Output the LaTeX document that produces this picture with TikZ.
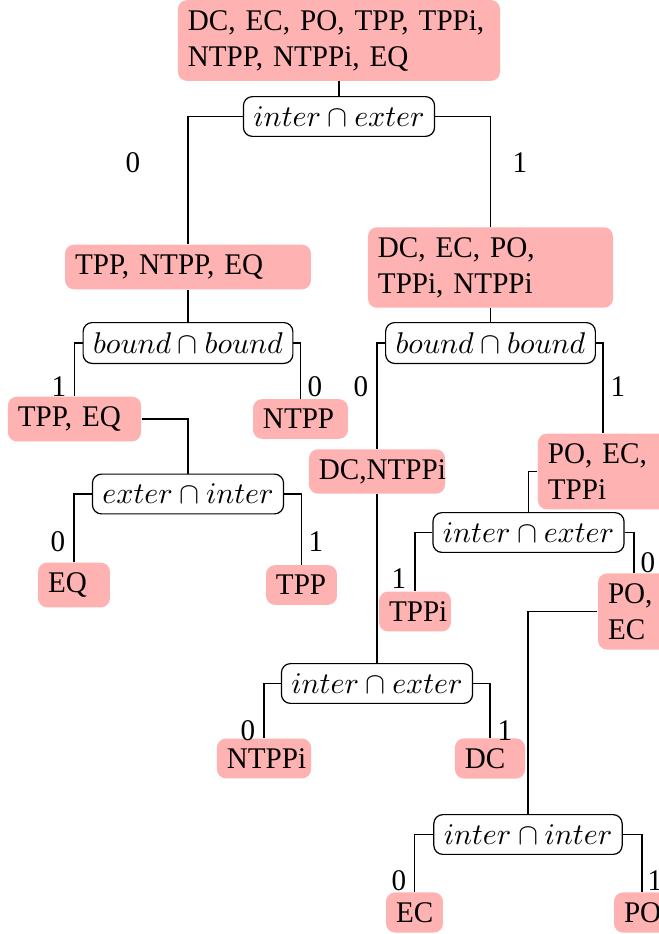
\documentclass[tikz,border=0pt]{standalone}
\usepackage{fontspec}
\setmainfont{Liberation Serif}[FakeStretch=0.97]
\usepackage{tikz}

\begin{document}
\begin{tikzpicture}[
    x=0.3333pt, y=-0.3333pt,
    rel/.style={rounded corners=3pt, fill=red!30, inner sep=3.33pt, align=left},
    cond/.style={draw, rounded corners=3pt, fill=white, inner sep=3.33pt},
    bit/.style={inner sep=0pt},
    branch/.style={line width=0.4pt}
]
\useasboundingbox (0,0) rectangle (659,934);

% relation sets
\node[rel, text width=100.7pt] (root) at (339,40.5) {DC,~EC,~PO,~TPP,~TPPi,\\NTPP,~NTPPi,~EQ};
\node[rel, text width=75.3pt] (l) at (188,267) {TPP, NTPP, EQ};
\node[rel, text width=75pt] (r) at (490.5,267.5) {DC, EC, PO,\\TPPi, NTPPi};
\node[rel, text width=37.7pt] (ll) at (74.5,419) {TPP, EQ};
\node[rel, text width=25pt] (lr) at (300.5,419) {NTPP};
\node[rel, text width=17.3pt] (lll) at (74,585) {EQ};
\node[rel, text width=17pt] (llr) at (301.5,585) {TPP};
\node[rel, text width=38.7pt] (rl) at (377,471.5) {DC,NTPPi};
\node[rel, text width=36.7pt] (rr) at (603,471.5) {PO, EC,\\TPPi};
\node[rel, text width=24.7pt] (rll) at (264,758.5) {NTPPi};
\node[rel, text width=16.7pt] (rlr) at (490,758.5) {DC};
\node[rel, text width=17.3pt] (rrl) at (415,611.5) {TPPi};
\node[rel, text width=17.3pt] (rrr) at (634,611.5) {PO,\\EC};
\node[rel, text width=12.3pt] (rrrl) at (414.5,912.5) {EC};
\node[rel, text width=12pt] (rrrr) at (642,912.5) {PO};

% tests
\node[cond] (qroot) at (339,116.5) {$inter \cap exter$};
\node[cond] (ql) at (188,343) {$bound \cap bound$};
\node[cond] (qr) at (490.5,343) {$bound \cap bound$};
\node[cond] (qll) at (188,494) {$exter \cap inter$};
\node[cond] (qrr) at (528.5,532.5) {$inter \cap exter$};
\node[cond] (qrl) at (377,683.5) {$inter \cap exter$};
\node[cond] (qrrr) at (528,834.5) {$inter \cap inter$};

% branches
\draw[branch] (root) -- (qroot);
\draw[branch] (qroot.west) -| (l);
\draw[branch] (qroot.east) -| (r);
\draw[branch] (l) -- (ql);
\draw[branch] (r) -- (qr);
\draw[branch] (ql.west) -| (ll);
\draw[branch] (ql.east) -| (lr);
\draw[branch] (ll.east) -| (qll);
\draw[branch] (qll.west) -| (lll);
\draw[branch] (qll.east) -| (llr);
\draw[branch] (qr.west) -| (rl);
\draw[branch] (qr.east) -| (rr);
\draw[branch] (rl) -- (qrl);
\draw[branch] (qrl.west) -| (rll);
\draw[branch] (qrl.east) -| (rlr);
\draw[branch] (rr.west) -| (qrr);
\draw[branch] (qrr.west) -| (rrl);
\draw[branch] (qrr.east) -| (rrr);
\draw[branch] (rrr.west) -| (qrrr);
\draw[branch] (qrrr.west) -| (rrrl);
\draw[branch] (qrrr.east) -| (rrrr);

% branch values
\node[bit] (b1) at (133,163) {0};
\node[bit] (b2) at (520,163) {1};
\node[bit] (b3) at (59,387) {1};
\node[bit] (b4) at (315,387) {0};
\node[bit] (b5) at (361,387) {0};
\node[bit] (b6) at (618,387) {1};
\node[bit] (b7) at (58,542) {0};
\node[bit] (b8) at (316,542) {1};
\node[bit] (b9) at (399,579) {1};
\node[bit] (b10) at (648,563) {0};
\node[bit] (b11) at (248,731) {0};
\node[bit] (b12) at (505,731) {1};
\node[bit] (b13) at (399,881) {0};
\node[bit] (b14) at (655,881) {1};
\end{tikzpicture}
\end{document}
